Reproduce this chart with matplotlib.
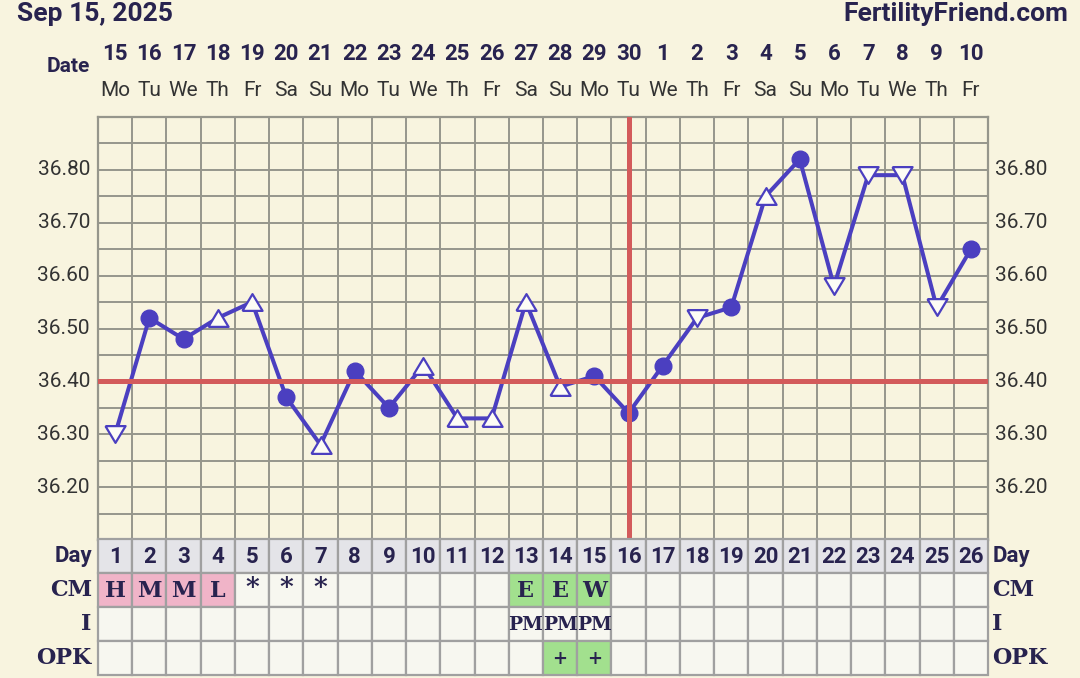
import numpy as np
import matplotlib
matplotlib.use("Agg")
import matplotlib.pyplot as plt
from matplotlib.patches import Rectangle
from matplotlib.transforms import blended_transform_factory

# ---------------- data ----------------
cycle_days = list(range(1, 27))
dates = ["15", "16", "17", "18", "19", "20", "21", "22", "23", "24", "25", "26", "27",
         "28", "29", "30", "1", "2", "3", "4", "5", "6", "7", "8", "9", "10"]
weekdays = ["Mo", "Tu", "We", "Th", "Fr", "Sa", "Su", "Mo", "Tu", "We", "Th", "Fr", "Sa",
            "Su", "Mo", "Tu", "We", "Th", "Fr", "Sa", "Su", "Mo", "Tu", "We", "Th", "Fr"]
temps = [36.30, 36.52, 36.48, 36.52, 36.55, 36.37, 36.28, 36.42, 36.35, 36.43, 36.33, 36.33, 36.55,
         36.39, 36.41, 36.34, 36.43, 36.52, 36.54, 36.75, 36.82, 36.58, 36.79, 36.79, 36.54, 36.65]
# o = circle, u = open up-triangle, d = open down-triangle
marker_kind = ["d", "o", "o", "u", "u", "o", "u", "o", "o", "u", "u", "u", "u",
               "u", "o", "o", "o", "d", "o", "u", "o", "d", "d", "d", "d", "o"]
coverline = 36.40
ovulation_day = 16
ytick_vals = [36.20, 36.30, 36.40, 36.50, 36.60, 36.70, 36.80]

cm_vals = ["H", "M", "M", "L", "*", "*", "*", "", "", "", "", "", "E", "E", "W",
           "", "", "", "", "", "", "", "", "", "", ""]
cm_colors = ["pink", "pink", "pink", "pink", "", "", "", "", "", "", "", "", "green", "green", "green",
             "", "", "", "", "", "", "", "", "", "", ""]
i_vals = ["", "", "", "", "", "", "", "", "", "", "", "", "PM", "PM", "PM",
          "", "", "", "", "", "", "", "", "", "", ""]
opk_vals = ["", "", "", "", "", "", "", "", "", "", "", "", "", "+", "+",
            "", "", "", "", "", "", "", "", "", "", ""]
opk_colors = ["", "", "", "", "", "", "", "", "", "", "", "", "", "green", "green",
              "", "", "", "", "", "", "", "", "", "", ""]

# ---------------- style ----------------
BG = "#f8f4df"
GRID = "#96968c"
NAVY = "#28234f"
GRAYTXT = "#333333"
BLUE = "#4b3fc0"
RED = "#d35b5b"
PINK = "#f0b4c8"
GREEN = "#a2e08e"
CELL = "#f7f7f0"
DAYCELL = "#e4e4e8"
SANS = ["Roboto", "DejaVu Sans"]
SERIF = ["DejaVu Serif"]

W, H = 1080, 678
fig = plt.figure(figsize=(W / 100, H / 100), dpi=100)
fig.patch.set_facecolor(BG)

def fx(px):
    return px / W

def fy(py):
    return 1 - py / H

# ---------------- chart ----------------
ax = fig.add_axes([fx(98), fy(540), fx(988) - fx(98), fy(117) - fy(540)])
ax.set_facecolor(BG)
ax.set_xlim(0.5, 26.5)
ax.set_ylim(36.10, 36.90)
ax.set_xticks(np.arange(0.5, 26.6, 1))
ax.set_yticks(np.arange(36.10, 36.905, 0.05))
ax.grid(True, color=GRID, lw=1.4)
ax.tick_params(length=0, labelbottom=False, labelleft=False)
for s in ax.spines.values():
    s.set_color(GRID)
    s.set_linewidth(1.6)

ax.plot(cycle_days, temps, color=BLUE, lw=2.9, zorder=3, solid_joinstyle="miter")
tri_up = [(-0.6, -0.5), (0.6, -0.5), (0.0, 0.5), (-0.6, -0.5)]
tri_dn = [(-0.6, 0.5), (0.6, 0.5), (0.0, -0.5), (-0.6, 0.5)]
for kind in ["o", "u", "d"]:
    xs = [d for d, k in zip(cycle_days, marker_kind) if k == kind]
    ys = [t for t, k in zip(temps, marker_kind) if k == kind]
    if kind == "o":
        ax.plot(xs, ys, ls="none", marker="o", ms=12, mfc=BLUE, mec=BLUE, zorder=4)
    else:
        ax.plot(xs, ys, ls="none", marker=tri_up if kind == "u" else tri_dn, ms=14.5,
                mfc="#fdfcf5", mec=BLUE, mew=1.6, zorder=4)

ax.axhline(coverline, color=RED, lw=3.6, zorder=5)
ax.axvline(ovulation_day, ymin=0.012, ymax=1, color=RED, lw=3.6, zorder=5)

ytr = ax.get_yaxis_transform()
for v in ytick_vals:
    ax.text(-0.009, v, f"{v:.2f}", transform=ytr, ha="right", va="center",
            fontsize=15, color=GRAYTXT, family=SANS, clip_on=False)
    ax.text(1.008, v, f"{v:.2f}", transform=ytr, ha="left", va="center",
            fontsize=15, color=GRAYTXT, family=SANS, clip_on=False)

# header rows
bt = blended_transform_factory(ax.transData, fig.transFigure)
for d, dt, wd in zip(cycle_days, dates, weekdays):
    ax.text(d, fy(54), dt, transform=bt, ha="center", va="center", fontsize=16,
            fontweight="bold", color=NAVY, family=SANS, clip_on=False)
    ax.text(d, fy(90), wd, transform=bt, ha="center", va="center", fontsize=15,
            color=GRAYTXT, family=SANS, clip_on=False)

fig.text(fx(90), fy(66), "Date", ha="right", va="center", fontsize=15,
         fontweight="bold", color=NAVY, family=SANS)
fig.text(fx(17), fy(14), "Sep 15, 2025", ha="left", va="center", fontsize=19,
         fontweight="bold", color=NAVY, family=SANS)
fig.text(fx(1068), fy(14), "FertilityFriend.com", ha="right", va="center", fontsize=19,
         fontweight="bold", color=NAVY, family=SANS)

# ---------------- table ----------------
tab = fig.add_axes([fx(98), fy(675), fx(988) - fx(98), fy(539) - fy(675)])
tab.set_xlim(0.5, 26.5)
tab.set_ylim(4, 0)
tab.axis("off")
color_map = {"pink": PINK, "green": GREEN, "": CELL}
for i, d in enumerate(cycle_days):
    rows = [DAYCELL, color_map[cm_colors[i]], CELL, color_map[opk_colors[i]]]
    for r, fc in enumerate(rows):
        tab.add_patch(Rectangle((d - 0.5, r), 1, 1, facecolor=fc, edgecolor="#a0a0a0",
                                lw=1.6, clip_on=False))
    tab.text(d, 0.52, str(d), ha="center", va="center", fontsize=16, fontweight="bold",
             color=NAVY, family=SANS)
    if cm_vals[i] == "*":
        tab.text(d, 1.42, "*", ha="center", va="center", fontsize=19, fontweight="bold",
                 color=NAVY, family=SERIF)
    elif cm_vals[i]:
        tab.text(d, 1.52, cm_vals[i], ha="center", va="center", fontsize=16,
                 fontweight="bold", color=NAVY, family=SERIF)
    if i_vals[i]:
        tab.text(d, 2.52, i_vals[i], ha="center", va="center", fontsize=13.5,
                 fontweight="bold", color=NAVY, family=SERIF)
    if opk_vals[i]:
        tab.text(d, 3.52, opk_vals[i], ha="center", va="center", fontsize=13,
                 fontweight="bold", color=NAVY, family=SERIF)

ttr = tab.get_yaxis_transform()
row_labels = ["Day", "CM", "I", "OPK"]
for r, lab in enumerate(row_labels):
    fam = SANS if lab == "Day" else SERIF
    tab.text(-0.007, r + 0.5, lab, transform=ttr, ha="right", va="center", fontsize=16,
             fontweight="bold", color=NAVY, family=fam, clip_on=False)
    tab.text(1.005, r + 0.5, lab, transform=ttr, ha="left", va="center", fontsize=16,
             fontweight="bold", color=NAVY, family=fam, clip_on=False)

fig.savefig("out.png", dpi=100, facecolor=BG)
